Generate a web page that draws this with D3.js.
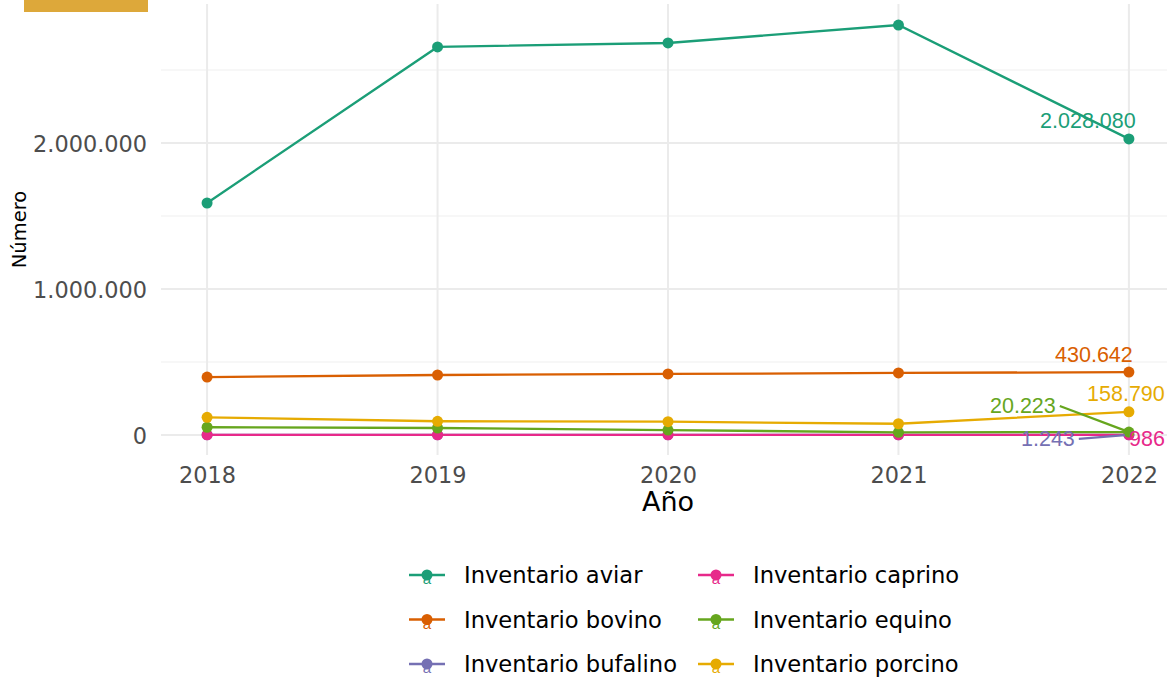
<!DOCTYPE html>
<html>
<head>
<meta charset="utf-8">
<script src="https://cdn.jsdelivr.net/npm/d3@7"></script>
<style>
  body { margin: 0; background: #fff; }
  svg { display: block; }
</style>
</head>
<body>
<div id="chart"></div>
<script>
// data
var years = [2018, 2019, 2020, 2021, 2022];
var seriesNames = ['Inventario aviar', 'Inventario bovino', 'Inventario bufalino',
                   'Inventario caprino', 'Inventario equino', 'Inventario porcino'];
var aviar    = [1589000, 2658000, 2685000, 2808000, 2028080];
var bovino   = [397000, 411000, 418000, 425000, 430642];
var bufalino = [1100, 1150, 1200, 1220, 1243];
var caprino  = [1050, 1000, 990, 980, 986];
var equino   = [53000, 48000, 34000, 18000, 20223];
var porcino  = [121000, 94000, 91000, 77000, 158790];
var yTicks = [0, 1000000, 2000000];
var yMinor = [500000, 1500000, 2500000];

var colors = ['#1B9E77', '#D95F02', '#7570B3', '#E7298A', '#66A61E', '#E6AB02'];
// label placement (offset from the last point), like ggrepel put them
var labelOffsets = [[-41, -11], [-35, -10], [-81, 11], [18, 11], [-106, -19], [-3, -11]];
var labelLeaders = [false, false, true, false, true, false];

var width = 1167, height = 681;
var panel = {left: 161, right: 1175, top: 4, bottom: 455};

var svg = d3.select('#chart').append('svg')
    .attr('width', width)
    .attr('height', height);

var x = d3.scaleLinear().domain([2017.8, 2022.2]).range([panel.left, panel.right]);
var y = d3.scaleLinear().domain([-137000, 2952000]).range([panel.bottom, panel.top]);

var fmt = d3.formatLocale({decimal: ',', thousands: '.', grouping: [3], currency: ['', '']}).format(',d');

// gridlines
var grid = svg.append('g').attr('class', 'grid');
grid.selectAll('line.minor').data(yMinor).enter().append('line')
    .attr('class', 'minor')
    .attr('x1', panel.left).attr('x2', width)
    .attr('y1', d => y(d)).attr('y2', d => y(d))
    .attr('stroke', '#EFEFEF').attr('stroke-width', 1.1);
grid.selectAll('line.majy').data(yTicks).enter().append('line')
    .attr('class', 'majy')
    .attr('x1', panel.left).attr('x2', width)
    .attr('y1', d => y(d)).attr('y2', d => y(d))
    .attr('stroke', '#EBEBEB').attr('stroke-width', 2);
grid.selectAll('line.majx').data(years).enter().append('line')
    .attr('class', 'majx')
    .attr('x1', d => x(d)).attr('x2', d => x(d))
    .attr('y1', panel.top).attr('y2', panel.bottom)
    .attr('stroke', '#EBEBEB').attr('stroke-width', 2);

// axes (text only, theme_minimal style)
var yAxis = svg.append('g')
    .attr('transform', 'translate(' + (panel.left - 14) + ',0)')
    .call(d3.axisLeft(y).tickValues(yTicks).tickFormat(fmt).tickSize(0).tickPadding(0));
var xAxis = svg.append('g')
    .attr('transform', 'translate(0,' + (panel.bottom + 6) + ')')
    .call(d3.axisBottom(x).tickValues(years).tickFormat(d3.format('d')).tickSize(0).tickPadding(0));
[yAxis, xAxis].forEach(function (ax) {
    ax.select('.domain').remove();
    ax.selectAll('text')
        .attr('font-family', 'DejaVu Sans')
        .attr('font-size', 22.4)
        .attr('fill', '#4D4D4D');
});
yAxis.selectAll('text').attr('dy', '0.36em');
xAxis.selectAll('text').attr('dy', '0.97em');

svg.append('text')
    .attr('x', 668).attr('y', 511)
    .attr('text-anchor', 'middle')
    .attr('font-family', 'DejaVu Sans').attr('font-size', 27)
    .attr('fill', '#000')
    .text('Año');
svg.append('text')
    .attr('transform', 'translate(26,' + ((panel.top + panel.bottom) / 2) + ') rotate(-90)')
    .attr('text-anchor', 'middle')
    .attr('font-family', 'DejaVu Sans').attr('font-size', 19.5)
    .attr('fill', '#000')
    .text('Número');

// series
var allValues = [aviar, bovino, bufalino, caprino, equino, porcino];
var series = seriesNames.map(function (name, i) {
    return {name: name, color: colors[i], values: years.map((yr, j) => ({year: yr, value: allValues[i][j]}))};
});

var line = d3.line().x(d => x(d.year)).y(d => y(d.value));

var sg = svg.selectAll('g.series').data(series).enter().append('g').attr('class', 'series');
sg.append('path')
    .attr('d', d => line(d.values))
    .attr('fill', 'none')
    .attr('stroke', d => d.color)
    .attr('stroke-width', 2.3);
sg.selectAll('circle').data(d => d.values.map(v => ({v: v, color: d.color}))).enter().append('circle')
    .attr('cx', d => x(d.v.year))
    .attr('cy', d => y(d.v.value))
    .attr('r', 5.5)
    .attr('fill', d => d.color);

// value labels on the last year
var lab = svg.append('g').attr('class', 'labels');
series.forEach(function (s, i) {
    var last = s.values[s.values.length - 1];
    var px = x(last.year), py = y(last.value);
    var lx = px + labelOffsets[i][0], ly = py + labelOffsets[i][1];
    var t = lab.append('text')
        .attr('x', lx).attr('y', ly)
        .attr('text-anchor', 'middle')
        .attr('font-family', 'Liberation Sans').attr('font-size', 21.5)
        .attr('fill', s.color)
        .text(fmt(last.value));
    if (labelLeaders[i]) {
        var w = t.node().getComputedTextLength();
        var sx = lx + w / 2 + 4, sy = ly - 7;
        var ang = Math.atan2(py - sy, px - sx);
        lab.append('line')
            .attr('x1', sx).attr('y1', sy)
            .attr('x2', px - Math.cos(ang) * 4).attr('y2', py - Math.sin(ang) * 4)
            .attr('stroke', s.color).attr('stroke-width', 2.3);
    }
});

// legend, two columns of three
var legend = svg.append('g').attr('class', 'legend');
var li = legend.selectAll('g').data(series).enter().append('g')
    .attr('transform', function (d, i) {
        var col = Math.floor(i / 3), row = i % 3;
        return 'translate(' + (409 + col * 289) + ',' + (575 + row * 44.5) + ')';
    });
li.append('text')
    .attr('x', 18).attr('y', 9)
    .attr('text-anchor', 'middle')
    .attr('font-family', 'Liberation Sans').attr('font-size', 15)
    .attr('fill', d => d.color)
    .text('a');
li.append('line')
    .attr('x1', 0).attr('x2', 36)
    .attr('stroke', d => d.color).attr('stroke-width', 2.3);
li.append('circle')
    .attr('cx', 18).attr('r', 5.5)
    .attr('fill', d => d.color);
li.append('text')
    .attr('x', 55).attr('y', 8)
    .attr('font-family', 'DejaVu Sans').attr('font-size', 22.6)
    .attr('fill', '#000')
    .text(d => d.name);

// clipped title strip in the top-left corner
svg.append('rect')
    .attr('x', 24).attr('y', 0)
    .attr('width', 124).attr('height', 12)
    .attr('fill', '#DDA83A');
</script>
</body>
</html>
